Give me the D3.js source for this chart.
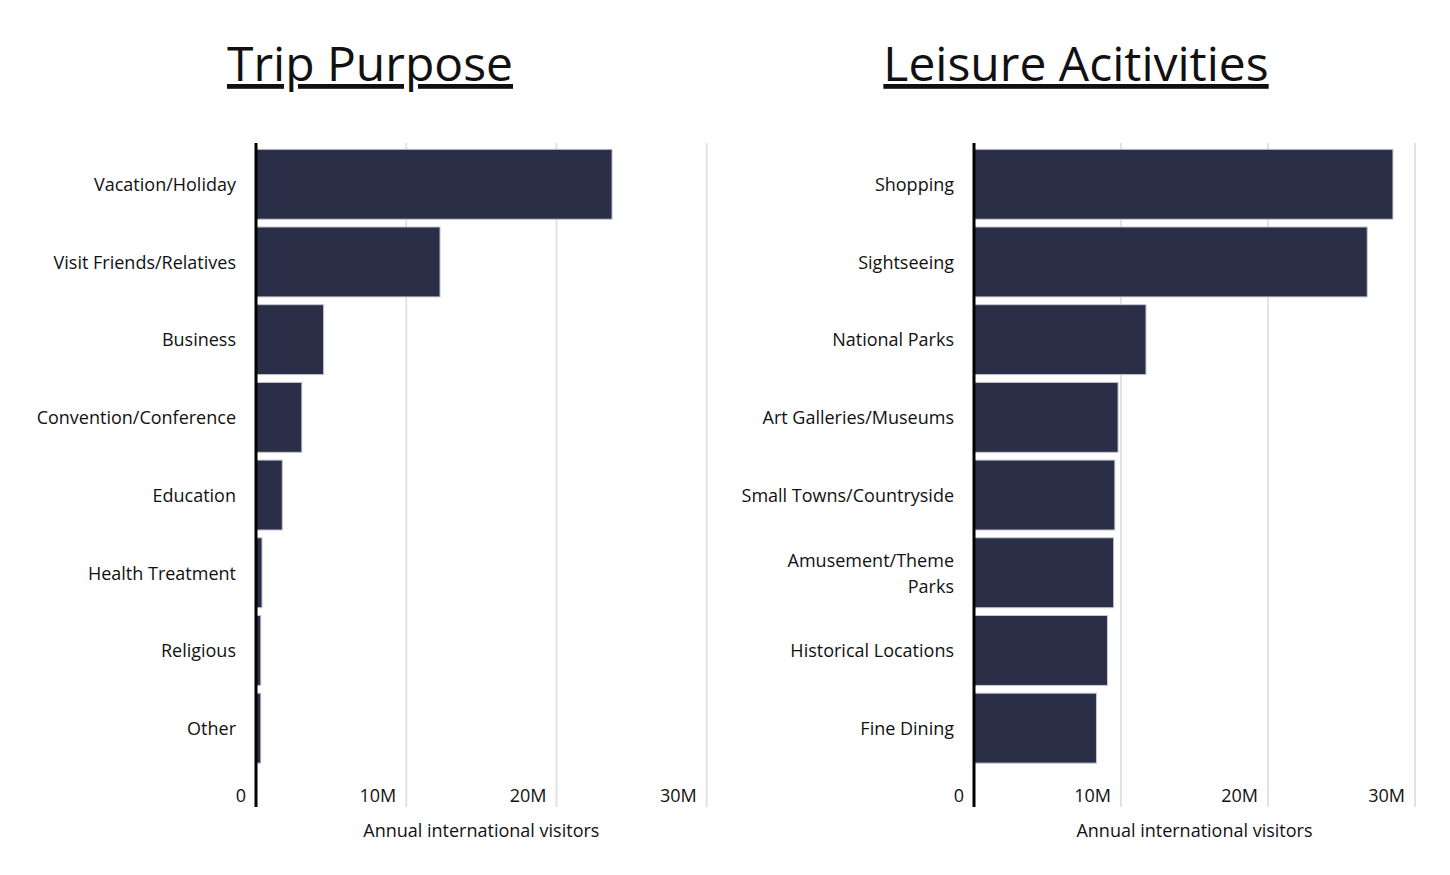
<!DOCTYPE html>
<html>
<head>
<meta charset="utf-8">
<script src="https://cdn.jsdelivr.net/npm/d3@7"></script>
<style>
  body { margin: 0; background: #fff; }
  svg text { font-family: "Open Sans", "Noto Sans", sans-serif; fill: #111; }
  .title { font-size: 48px; text-decoration: underline; }
  .cat { font-size: 18px; }
  .tick-lbl { font-size: 18px; }
  .axis-title { font-size: 18px; }
</style>
</head>
<body>
<div id="chart-area"></div>
<script>
// data (millions of visitors)
let purposeCats = ["Vacation/Holiday", "Visit Friends/Relatives", "Business", "Convention/Conference",
	"Education", "Health Treatment", "Religious", "Other"];
let purposeVals = [23.7, 12.25, 4.5, 3.05, 1.75, 0.4, 0.32, 0.32];

let leisureCats = ["Shopping", "Sightseeing", "National Parks", "Art Galleries/Museums",
	"Small Towns/Countryside", "Amusement/Theme Parks", "Historical Locations", "Fine Dining"];
let leisureVals = [28.5, 26.75, 11.7, 9.8, 9.58, 9.5, 9.08, 8.33];

let tickVals = [0, 10, 20, 30];
let tickLabels = ["0", "10M", "20M", "30M"];

let W = 1450, H = 875;

let svg = d3.select("#chart-area").append("svg")
	.attr("width", W)
	.attr("height", H);

// wrap long labels onto extra lines
function wrap(textSel, maxWidth) {
	textSel.each(function () {
		let text = d3.select(this);
		let words = text.text().split(/\s+/);
		let x = text.attr("x");
		text.text(null);
		let lines = [];
		let line = [];
		let tspan = text.append("tspan");
		words.forEach(w => {
			line.push(w);
			tspan.text(line.join(" "));
			if (tspan.node().getComputedTextLength() > maxWidth && line.length > 1) {
				line.pop();
				lines.push(line.join(" "));
				line = [w];
				tspan.text(w);
			}
		});
		lines.push(line.join(" "));
		text.text(null);
		let lh = 26;
		let y0 = -(lines.length - 1) * lh / 2;
		lines.forEach((l, i) => {
			text.append("tspan")
				.attr("x", x)
				.attr("y", y0 + i * lh)
				.attr("dy", "0.38em")
				.text(l);
		});
	});
}

function drawChart(cfg) {
	let g = svg.append("g");

	let x = d3.scaleLinear().domain([0, 30]).range([cfg.x0, cfg.x1]);
	let y = d3.scaleBand().domain(cfg.cats).range([145.4, 767]).paddingInner(0.1).paddingOuter(0.05);

	// title
	g.append("text")
		.attr("class", "title")
		.attr("x", cfg.titleX)
		.attr("y", 81)
		.attr("text-anchor", "middle")
		.text(cfg.title);

	// gridlines
	g.selectAll(".grid")
		.data(tickVals.slice(1))
		.enter().append("line")
		.attr("class", "grid")
		.attr("x1", d => x(d)).attr("x2", d => x(d))
		.attr("y1", 143).attr("y2", 807)
		.attr("stroke", "#e2e2e2")
		.attr("stroke-width", 2);

	// bars
	g.selectAll(".bar")
		.data(cfg.vals)
		.enter().append("rect")
		.attr("class", "bar")
		.attr("x", x(0))
		.attr("y", (d, i) => y(cfg.cats[i]))
		.attr("width", d => x(d) - x(0))
		.attr("height", y.bandwidth())
		.attr("fill", "#2a2e47")
		.attr("stroke", "#c5c7d2")
		.attr("stroke-width", 1);

	// zero axis line
	g.append("line")
		.attr("x1", x(0)).attr("x2", x(0))
		.attr("y1", 143).attr("y2", 807)
		.attr("stroke", "#000")
		.attr("stroke-width", 3);

	// category labels
	g.selectAll(".cat")
		.data(cfg.cats)
		.enter().append("text")
		.attr("class", "cat")
		.attr("transform", d => `translate(0,${y(d) + y.bandwidth() / 2})`)
		.attr("x", x(0) - 20)
		.attr("text-anchor", "end")
		.text(d => d)
		.call(wrap, 215);

	// tick labels sit left of their gridline
	g.selectAll(".tick-lbl")
		.data(tickVals)
		.enter().append("text")
		.attr("class", "tick-lbl")
		.attr("x", d => x(d) - 10)
		.attr("y", 796)
		.attr("dy", "0.36em")
		.attr("text-anchor", "end")
		.text((d, i) => tickLabels[i]);

	g.append("text")
		.attr("class", "axis-title")
		.attr("x", (cfg.x0 + cfg.x1) / 2)
		.attr("y", 831)
		.attr("dy", "0.36em")
		.attr("text-anchor", "middle")
		.text("Annual international visitors");
}

drawChart({title: "Trip Purpose", titleX: 370, cats: purposeCats, vals: purposeVals, x0: 256, x1: 706.7});
drawChart({title: "Leisure Acitivities", titleX: 1076, cats: leisureCats, vals: leisureVals, x0: 974, x1: 1415});
</script>
</body>
</html>
